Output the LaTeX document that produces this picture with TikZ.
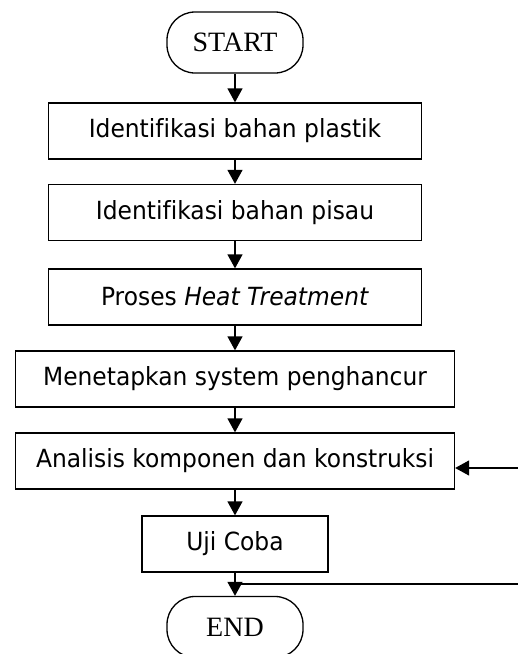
\documentclass[tikz,border=0pt]{standalone}
\usepackage{fontspec}
\setmainfont{DejaVu Sans}[Ligatures=NoCommon,FakeStretch=0.935]
\newfontfamily\termfont{Liberation Serif}
\usetikzlibrary{arrows.meta}

\begin{document}
\begin{tikzpicture}[x=1pt,y=-1pt,
        box/.style={draw,line width=1.3pt,minimum height=56pt,inner sep=0pt,
            font=\fontsize{25}{29}\selectfont},
        term/.style={draw,line width=1.3pt,rounded corners=28pt,minimum width=136pt,
            minimum height=61pt,font=\termfont\fontsize{28}{32}\selectfont},
        >={Triangle[length=14pt,width=15pt]}]
        \useasboundingbox (0,0) rectangle (518,654);
        \node [term] (S) at (235,42.5) {START};
        \node [box,minimum width=373pt] (A) at (235,131) {Identifikasi bahan plastik};
        \node [box,minimum width=373pt] (B) at (235,212.5) {Identifikasi bahan pisau};
        \node [box,minimum width=373pt] (C) at (235,297) {Proses \textit{Heat Treatment}};
        \node [box,minimum width=439pt] (D) at (235,379) {Menetapkan system penghancur};
        \node [box,minimum width=439pt] (E) at (235,461) {Analisis komponen dan konstruksi};
        \node [box,minimum width=186pt] (F) at (235,544) {Uji Coba};
        \node [term] (T) at (235,627) {END};
        \coordinate (R1) at (518,468);
        \coordinate (R2) at (518,584);
        \draw [->,line width=1.3pt] (S) -- (A);
        \draw [->,line width=1.3pt] (A) -- (B);
        \draw [->,line width=1.3pt] (B) -- (C);
        \draw [->,line width=1.3pt] (C) -- (D);
        \draw [->,line width=1.3pt] (D) -- (E);
        \draw [->,line width=1.3pt] (E) -- (F);
        \draw [->,line width=1.3pt] (F) -- (T);
        \draw [->,line width=1.3pt] (R1) -- (R1 -| E.east);
        \draw [line width=1.3pt] (R2) -- (R2 -| F.south);

    \end{tikzpicture}
\end{document}
